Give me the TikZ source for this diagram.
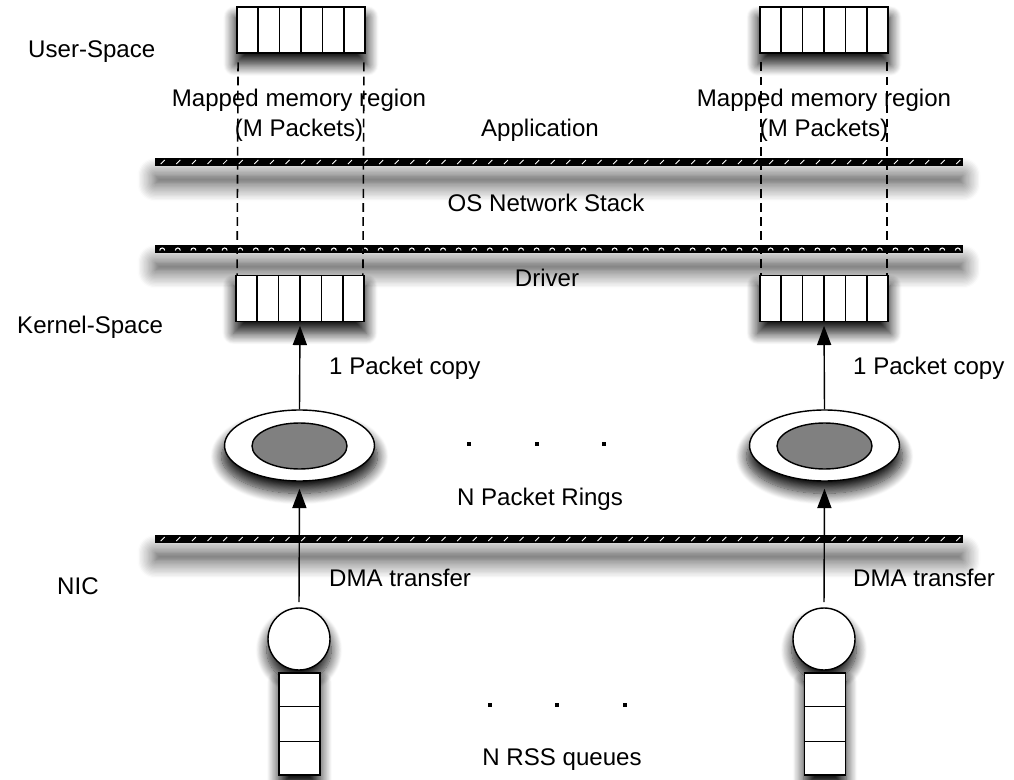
\documentclass[tikz,border=0pt]{standalone}
\usepackage{fontspec}
\setmainfont{Liberation Sans}
\usetikzlibrary{arrows.meta, calc, positioning, shapes.geometric, shadows.blur}

\begin{document}
\begin{tikzpicture}[
    x=0.02cm, y=-0.02cm,
    font=\fontsize{13.7}{17}\selectfont,
    soft/.style={blur shadow={shadow xshift=0pt, shadow yshift=-6pt, shadow scale=1.04, shadow blur radius=6pt, shadow blur steps=14, shadow opacity=90}},
    buffer/.style={rectangle, draw, line width=0.8pt, fill=white, minimum width=2.56cm, minimum height=0.92cm, soft},
    ring/.style={ellipse, draw, line width=0.8pt, fill=white, minimum width=3cm, minimum height=1.42cm, soft},
    core/.style={ellipse, draw, line width=0.8pt, fill=black!50, minimum width=1.9cm, minimum height=0.92cm},
    port/.style={circle, draw, line width=0.8pt, fill=white, minimum size=1.24cm, soft},
    queue/.style={rectangle, draw, line width=0.8pt, fill=white, minimum width=0.82cm, minimum height=2.04cm, soft},
    layer/.style={rectangle, fill=black, inner sep=0pt, minimum width=16.16cm, minimum height=0.17cm,
        blur shadow={shadow xshift=0pt, shadow yshift=-10pt, shadow blur radius=10pt, shadow blur steps=14, shadow opacity=75}},
    arrow/.style={-{Triangle[length=11pt, width=8pt]}, line width=0.8pt},
    mapped/.style={dash pattern=on 5pt off 3pt, line width=0.9pt},
    dot/.style={rectangle, fill=black, inner sep=0pt, minimum size=0.08cm},
]
    \useasboundingbox (0,0) rectangle (1014,780);

    \node[anchor=west] (user) at (22,52) {User-Space};
    \node[anchor=west] (kernel) at (11,327) {Kernel-Space};
    \node[anchor=west] (nic) at (51,586) {NIC};

    \node[layer] (barapp) at (559,162) {};
    \node[layer] (barstack) at (559,249) {};
    \node[layer] (barnic) at (559,539) {};
    \foreach \i in {0,...,51} {
        \draw[white, line width=0.5pt] ($(barapp.west)+(6+\i*15.6,2)$) -- ++(4,-4);
        \draw[white, line width=0.5pt] ($(barnic.west)+(6+\i*15.6,2)$) -- ++(4,-4);
        \draw[white, line width=0.6pt] ($(barstack.west)+(5+\i*15.6,1.5)$) arc[start angle=180, end angle=0, radius=0.05cm];
    }

    \node[buffer] (ubufL) at (301,30) {};
    \node[buffer] (ubufR) at (824,30) {};
    \node[buffer] (kbufL) at (300,298.5) {};
    \node[buffer] (kbufR) at (824,298.5) {};
    \foreach \b in {ubufL, ubufR, kbufL, kbufR}
        \foreach \i in {1,...,5}
            \draw[line width=0.8pt] ($(\b.north west)!\i/6!(\b.north east)$) -- ($(\b.south west)!\i/6!(\b.south east)$);

    \node[align=center] (mapL) at (299,115) {Mapped memory region\\(M Packets)};
    \node[align=center] (mapR) at (824,115) {Mapped memory region\\(M Packets)};
    \node (app) at (540,130) {Application};
    \node (stack) at (546,203) {OS Network Stack};
    \node (driver) at (547,278) {Driver};

    \draw[mapped] ([xshift=1pt, yshift=-5pt]ubufL.south west) -- ([xshift=1pt]kbufL.north west);
    \draw[mapped] ([xshift=-1pt, yshift=-5pt]ubufL.south east) -- ([xshift=-1pt]kbufL.north east);
    \draw[mapped] ([xshift=1pt, yshift=-5pt]ubufR.south west) -- ([xshift=1pt]kbufR.north west);
    \draw[mapped] ([xshift=-1pt, yshift=-5pt]ubufR.south east) -- ([xshift=-1pt]kbufR.north east);

    \node[ring] (ringL) at (299.5,445.5) {};
    \node[core] (coreL) at (299.5,446) {};
    \node[ring] (ringR) at (824.5,445.5) {};
    \node[core] (coreR) at (824.5,446) {};
    \node[dot] at (469,444) {};
    \node[dot] at (537,444) {};
    \node[dot] at (604,444) {};
    \node (rings) at (540,499) {N Packet Rings};

    \node[port] (nicL) at (299,639) {};
    \node[port] (nicR) at (824,639) {};
    \node[queue] (rssL) at (299.5,724) {};
    \node[queue] (rssR) at (825,724) {};
    \foreach \q in {rssL, rssR}
        \foreach \i in {1,2}
            \draw[line width=0.8pt] ($(\q.north west)!\i/3!(\q.south west)$) -- ($(\q.north east)!\i/3!(\q.south east)$);
    \node[dot] at (490,705) {};
    \node[dot] at (557,705) {};
    \node[dot] at (625,705) {};
    \node (rss) at (562,760) {N RSS queues};

    \draw[arrow, shorten >=2pt] (ringL.north) -- (kbufL.south);
    \draw[arrow, shorten >=2pt] (ringR.north) -- (kbufR.south);
    \node[anchor=west] (copyL) at (323,368) {1 Packet copy};
    \node[anchor=west] (copyR) at (847,368) {1 Packet copy};

    \draw[arrow, shorten <=3pt, shorten >=4pt] (nicL.north) -- (ringL.south);
    \draw[arrow, shorten <=3pt, shorten >=4pt] (nicR.north) -- (ringR.south);
    \node[anchor=west] (dmaL) at (323,578) {DMA transfer};
    \node[anchor=west] (dmaR) at (847,578) {DMA transfer};
\end{tikzpicture}
\end{document}
